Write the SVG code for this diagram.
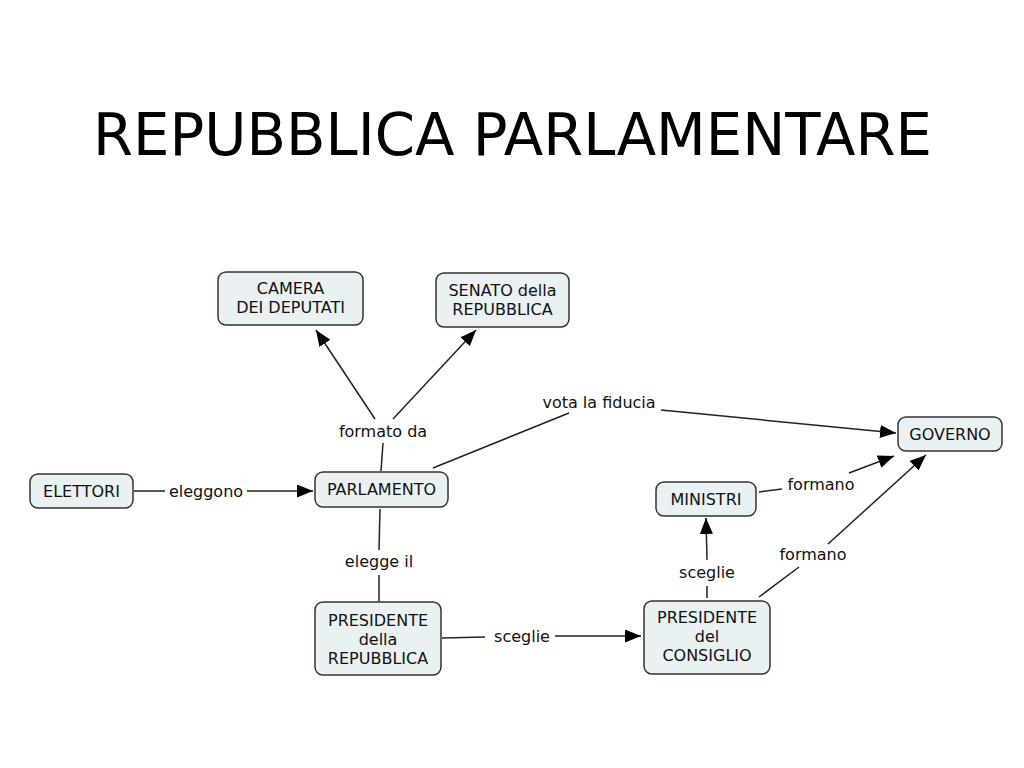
<svg xmlns="http://www.w3.org/2000/svg" width="1024" height="768" viewBox="0 0 1024 768">
<defs>
<marker id="arr" viewBox="0 0 16 13" refX="16" refY="6.5" markerWidth="16" markerHeight="13" markerUnits="userSpaceOnUse" orient="auto">
<path d="M0,0 L16,6.5 L0,13 Z" fill="#000"/>
</marker>
<style>
.node rect{fill:#e9f1f3;stroke:#333;stroke-width:1.5}
.node text{font-family:"DejaVu Sans",Verdana,sans-serif;font-size:16px;fill:#111;text-anchor:middle}
.lbl{font-family:"DejaVu Sans",Verdana,sans-serif;font-size:16px;fill:#111;text-anchor:middle}
.c line{stroke:#222;stroke-width:1.5;fill:none}
.a{marker-end:url(#arr)}
</style>
</defs>
<rect width="1024" height="768" fill="#fff"/>
<text x="512.5" y="155" font-family="'DejaVu Sans',Verdana,sans-serif" font-size="58" text-anchor="middle" textLength="839" lengthAdjust="spacingAndGlyphs" fill="#000">REPUBBLICA PARLAMENTARE</text>

<g id="connectors" class="c">
<line x1="134" y1="491" x2="165" y2="491"/>
<line class="a" x1="247" y1="491" x2="313" y2="491"/>
<line x1="381" y1="471" x2="383" y2="443"/>
<line class="a" x1="375" y1="419" x2="316" y2="330"/>
<line class="a" x1="393" y1="419" x2="476" y2="330"/>
<line x1="433" y1="468" x2="569" y2="413"/>
<line class="a" x1="661" y1="410" x2="896" y2="433"/>
<line x1="380" y1="509" x2="379" y2="550"/>
<line x1="379" y1="575" x2="379" y2="601"/>
<line x1="442" y1="638" x2="485" y2="637"/>
<line class="a" x1="555" y1="636" x2="641" y2="636"/>
<line x1="707" y1="598" x2="707" y2="586"/>
<line class="a" x1="707" y1="560" x2="706" y2="518"/>
<line x1="759" y1="492" x2="782" y2="489"/>
<line class="a" x1="849" y1="473" x2="894" y2="456"/>
<line x1="759" y1="597" x2="799" y2="567"/>
<line class="a" x1="828" y1="544" x2="926" y2="455"/>
</g>

<g id="labels">
<text class="lbl" x="206" y="497">eleggono</text>
<text class="lbl" x="383" y="437">formato da</text>
<text class="lbl" x="599" y="408">vota la fiducia</text>
<text class="lbl" x="379" y="567">elegge il</text>
<text class="lbl" x="522" y="642">sceglie</text>
<text class="lbl" x="707" y="578">sceglie</text>
<text class="lbl" x="821" y="490">formano</text>
<text class="lbl" x="813" y="560">formano</text>
</g>

<g id="camera" class="node">
<rect x="218" y="272" width="145" height="53" rx="8"/>
<text x="290.5" y="294">CAMERA</text>
<text x="290.5" y="313">DEI DEPUTATI</text>
</g>
<g id="senato" class="node">
<rect x="436" y="273" width="133" height="54" rx="8"/>
<text x="502.5" y="296">SENATO della</text>
<text x="502.5" y="315">REPUBBLICA</text>
</g>
<g id="elettori" class="node">
<rect x="30" y="474" width="103" height="34" rx="8"/>
<text x="81.5" y="497">ELETTORI</text>
</g>
<g id="parlamento" class="node">
<rect x="315" y="472" width="133" height="35" rx="8"/>
<text x="381.5" y="495">PARLAMENTO</text>
</g>
<g id="presrep" class="node">
<rect x="315" y="602" width="126" height="73" rx="8"/>
<text x="378" y="626">PRESIDENTE</text>
<text x="378" y="645">della</text>
<text x="378" y="664">REPUBBLICA</text>
</g>
<g id="prescons" class="node">
<rect x="644" y="601" width="126" height="73" rx="8"/>
<text x="707" y="623">PRESIDENTE</text>
<text x="707" y="642">del</text>
<text x="707" y="661">CONSIGLIO</text>
</g>
<g id="ministri" class="node">
<rect x="656" y="482" width="100" height="34" rx="8"/>
<text x="706" y="505">MINISTRI</text>
</g>
<g id="governo" class="node">
<rect x="898" y="417" width="104" height="34" rx="8"/>
<text x="950" y="440">GOVERNO</text>
</g>
</svg>
